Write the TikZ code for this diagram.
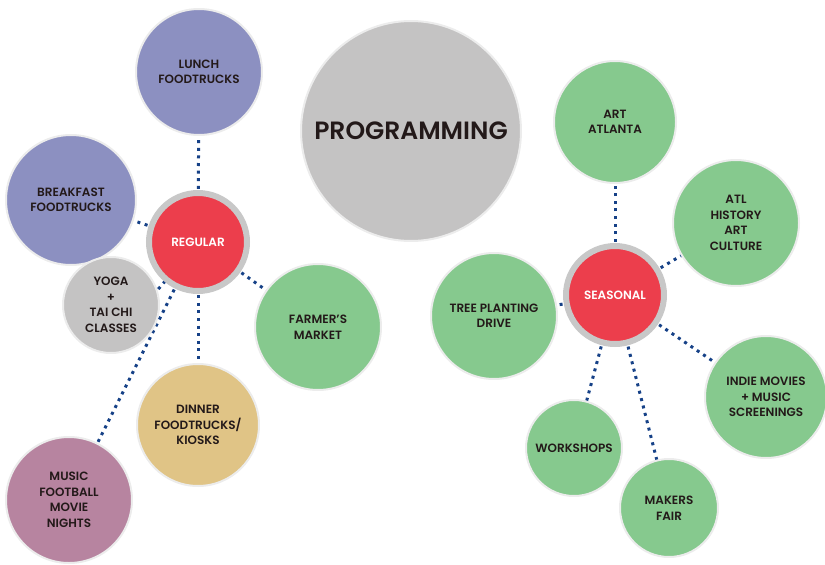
\documentclass[tikz,border=0pt]{standalone}
\usepackage{fontspec}
\setmainfont{Poppins}[BoldFont={Poppins SemiBold}]
\usepackage{xcolor}
\usetikzlibrary{positioning,backgrounds}

\definecolor{purpleC}{RGB}{140,144,193}
\definecolor{redC}{RGB}{236,62,76}
\definecolor{grayC}{RGB}{196,195,195}
\definecolor{ringC}{RGB}{200,200,200}
\definecolor{greenC}{RGB}{134,201,142}
\definecolor{tanC}{RGB}{224,196,134}
\definecolor{mauveC}{RGB}{183,132,160}
\definecolor{navyC}{RGB}{22,65,135}
\definecolor{edgeC}{RGB}{236,236,236}
\definecolor{inkC}{RGB}{35,25,25}

\begin{document}
\begin{tikzpicture}[
  x=1pt, y=-1pt,
  every node/.style={font=\fontsize{12}{15.5}\selectfont\bfseries, text=inkC},
  bubble/.style={circle, draw=edgeC, line width=2pt, inner sep=0pt,
                 align=center, minimum size=#1},
  bubble/.default=126,
  hub/.style={circle, draw=ringC, line width=6pt, fill=redC, inner sep=0pt,
              align=center, minimum size=98, text=white},
  link/.style={draw=navyC, line width=3pt, dash pattern=on 3pt off 4.6pt}
]
\useasboundingbox (0,0) rectangle (825,565);

% title
\node[bubble=220, fill=grayC, font=\fontsize{25}{29}\selectfont\bfseries] (prog) at (411,131) {PROGRAMMING};

% regular cluster
\node[hub] (regular) at (198,242) {REGULAR};
\node[bubble, fill=purpleC] (lunch) at (199,72) {LUNCH\\FOODTRUCKS};
\node[bubble=130, fill=purpleC] (breakfast) at (71,200) {BREAKFAST\\FOODTRUCKS};
\node[bubble=96, fill=grayC] (yoga) at (111,305) {YOGA\\+\\TAI CHI\\CLASSES};
\node[bubble, fill=greenC] (farmer) at (318,327) {FARMER'S\\MARKET};
\node[bubble=122, fill=tanC] (dinner) at (198,425) {DINNER\\FOODTRUCKS/\\KIOSKS};
\node[bubble, fill=mauveC] (music) at (69,500) {MUSIC\\FOOTBALL\\MOVIE\\NIGHTS};

% seasonal cluster
\node[hub] (seasonal) at (615,295) {SEASONAL};
\node[bubble=122, fill=greenC] (art) at (615,122) {ART\\ATLANTA};
\node[bubble, fill=greenC] (atl) at (736,223) {ATL\\HISTORY\\ART\\CULTURE};
\node[bubble, fill=greenC] (tree) at (494,316) {TREE PLANTING\\DRIVE};
\node[bubble=122, fill=greenC] (indie) at (766,397) {INDIE MOVIES\\+ MUSIC\\SCREENINGS};
\node[bubble=96, fill=greenC] (workshops) at (574,448) {WORKSHOPS};
\node[bubble=98, fill=greenC] (makers) at (669,508) {MAKERS\\FAIR};

\begin{pgfonlayer}{background}
\draw[link] (regular.center) -- (lunch.center);
\draw[link] (regular.center) -- (breakfast.center);
\draw[link] (regular.center) -- (farmer.center);
\draw[link] (regular.center) -- (dinner.center);
\draw[link] (regular.center) -- (music.center);
\draw[link] (seasonal.center) -- (art.center);
\draw[link] (seasonal.center) -- (atl.center);
\draw[link] (seasonal.center) -- (tree.center);
\draw[link] (seasonal.center) -- (indie.center);
\draw[link] (seasonal.center) -- (workshops.center);
\draw[link] (seasonal.center) -- (makers.center);
\end{pgfonlayer}
\draw[link, dash phase=1pt] (regular.230) -- (yoga.18);

\end{tikzpicture}
\end{document}
